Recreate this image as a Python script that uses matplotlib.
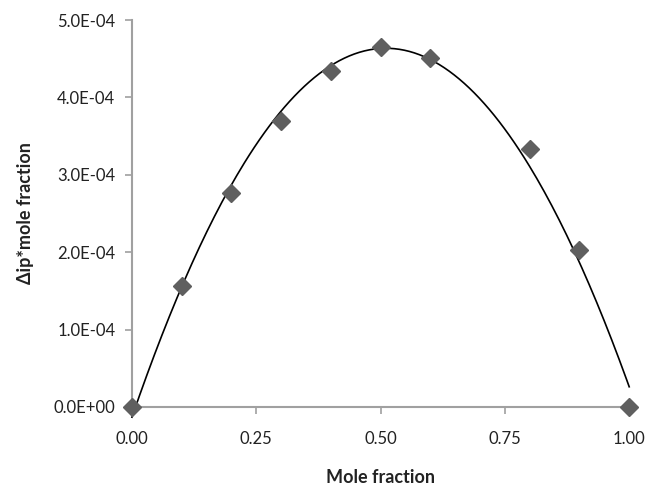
import numpy as np
import matplotlib.pyplot as plt

plt.rcParams["font.family"] = ["Lato", "DejaVu Sans"]

mole_fraction = [0.0, 0.1, 0.2, 0.3, 0.4, 0.5, 0.6, 0.8, 0.9, 1.0]
dip_x = [0.0, 1.56e-4, 2.76e-4, 3.70e-4, 4.34e-4, 4.65e-4, 4.51e-4, 3.33e-4, 2.03e-4, 0.0]

x_ticks = [0.0, 0.25, 0.5, 0.75, 1.0]
y_ticks = [0.0, 1e-4, 2e-4, 3e-4, 4e-4, 5e-4]

# polynomial trendline (like the spreadsheet one)
coeffs = np.polyfit(mole_fraction, dip_x, 2)
trend = np.poly1d(coeffs)
xs = np.linspace(0, 1, 200)
print(coeffs, trend(0), trend(1))

fig = plt.figure(figsize=(6.5, 4.86), dpi=100)
ax = fig.add_axes([0.203, 0.1626, 0.765, 0.7962])

ax.plot(xs, trend(xs), color="black", lw=1.2, zorder=2, clip_on=False)
ax.plot(mole_fraction, dip_x, linestyle="none", marker="D", markersize=9,
        color="#5f5f5f", zorder=3, clip_on=False)

ax.set_xlim(0, 1)
ax.set_ylim(0, 5e-4)
ax.set_xticks(x_ticks)
ax.set_yticks(y_ticks)
ax.set_xticklabels([f"{t:.2f}" for t in x_ticks])
ax.set_yticklabels(["0.0E+00"] + [f"{t * 1e4:.1f}E-04" for t in y_ticks[1:]])

for side in ["top", "right"]:
    ax.spines[side].set_visible(False)
for side in ["left", "bottom"]:
    ax.spines[side].set_color("#a0a0a0")
    ax.spines[side].set_linewidth(1.5)
ax.tick_params(colors="#a0a0a0", labelcolor="#222222", labelsize=12,
               length=5, width=1.2, direction="out")
ax.tick_params(axis="x", pad=12)
ax.tick_params(axis="y", pad=7)

ax.set_xlabel("Mole fraction", fontsize=13, fontweight="bold", color="#222222", labelpad=16)
ax.set_ylabel("Δip*mole fraction", fontsize=13, fontweight="bold", color="#222222", labelpad=14)

fig.savefig("out.png", dpi=100)
